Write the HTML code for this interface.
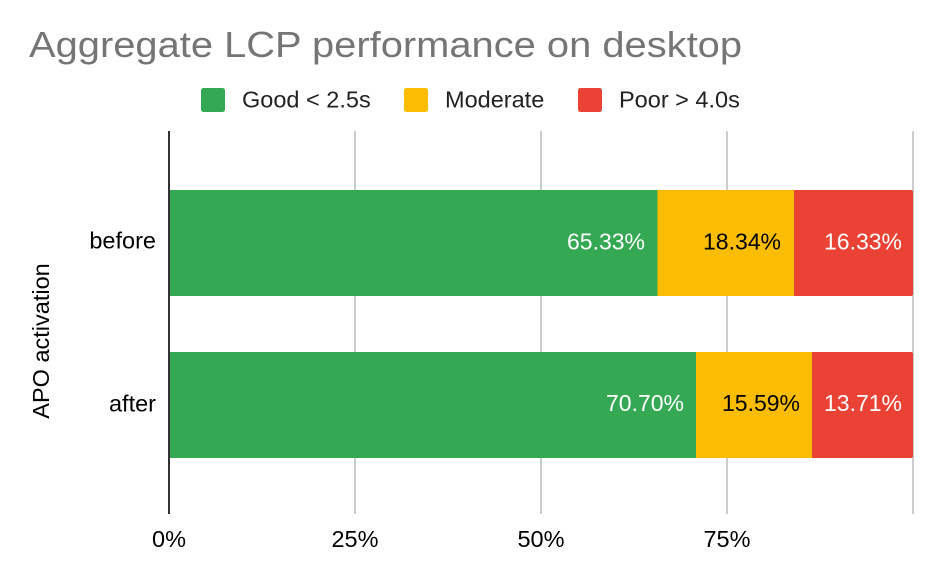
<!DOCTYPE html>
<html>
<head>
<meta charset="utf-8">
<style>
  html, body { margin: 0; padding: 0; background: #ffffff; }
  svg { display: block; }
  text { font-family: "Liberation Sans", Arial, Helvetica, sans-serif; }
</style>
</head>
<body>
<svg width="942" height="580" viewBox="0 0 942 580" xmlns="http://www.w3.org/2000/svg">
  <rect x="0" y="0" width="942" height="580" fill="#ffffff"/>

  <!-- Title -->
  <text x="29" y="57" font-size="36" fill="#757575" textLength="713" lengthAdjust="spacingAndGlyphs">Aggregate LCP performance on desktop</text>

  <!-- Legend -->
  <rect x="201" y="88" width="24" height="24" rx="2.5" fill="#34a853"/>
  <text x="242" y="107.5" font-size="23.5" fill="#222222">Good &lt; 2.5s</text>
  <rect x="404" y="88" width="24" height="24" rx="2.5" fill="#fbbc04"/>
  <text x="445" y="107.5" font-size="23.5" fill="#222222">Moderate</text>
  <rect x="578" y="88" width="24" height="24" rx="2.5" fill="#ea4335"/>
  <text x="619" y="107.5" font-size="23.5" fill="#222222">Poor &gt; 4.0s</text>

  <!-- Gridlines -->
  <g stroke="#cccccc" stroke-width="2">
    <line x1="355" y1="131" x2="355" y2="514"/>
    <line x1="541" y1="131" x2="541" y2="514"/>
    <line x1="727" y1="131" x2="727" y2="514"/>
    <line x1="913" y1="131" x2="913" y2="514"/>
  </g>

  <!-- Bars: before -->
  <rect x="170" y="190" width="487.5" height="106" fill="#34a853"/>
  <rect x="657.5" y="190" width="136.5" height="106" fill="#fbbc04"/>
  <path d="M794 190 H911 Q913 190 913 192 V294 Q913 296 911 296 H794 Z" fill="#ea4335"/>

  <!-- Bars: after -->
  <rect x="170" y="352" width="526" height="106" fill="#34a853"/>
  <rect x="696" y="352" width="116" height="106" fill="#fbbc04"/>
  <path d="M812 352 H911 Q913 352 913 354 V456 Q913 458 911 458 H812 Z" fill="#ea4335"/>

  <!-- Axis line -->
  <line x1="169" y1="131" x2="169" y2="514" stroke="#333333" stroke-width="2"/>

  <!-- Value labels -->
  <g font-size="23" text-anchor="end">
    <text x="645" y="249.5" fill="#ffffff">65.33%</text>
    <text x="781" y="249.5" fill="#000000">18.34%</text>
    <text x="902" y="249.5" fill="#ffffff">16.33%</text>
    <text x="684" y="411" fill="#ffffff">70.70%</text>
    <text x="800" y="411" fill="#000000">15.59%</text>
    <text x="902" y="411" fill="#ffffff">13.71%</text>
  </g>

  <!-- Category labels -->
  <g font-size="23.5" text-anchor="end" fill="#000000">
    <text x="156" y="248.5">before</text>
    <text x="156" y="411.5">after</text>
  </g>

  <!-- Y axis title -->
  <text x="0" y="0" font-size="23.5" fill="#000000" text-anchor="middle" transform="translate(49,341) rotate(-90)">APO activation</text>

  <!-- X tick labels -->
  <g font-size="23.5" text-anchor="middle" fill="#000000">
    <text x="169" y="547">0%</text>
    <text x="355" y="547">25%</text>
    <text x="541" y="547">50%</text>
    <text x="727" y="547">75%</text>
  </g>
</svg>
</body>
</html>
